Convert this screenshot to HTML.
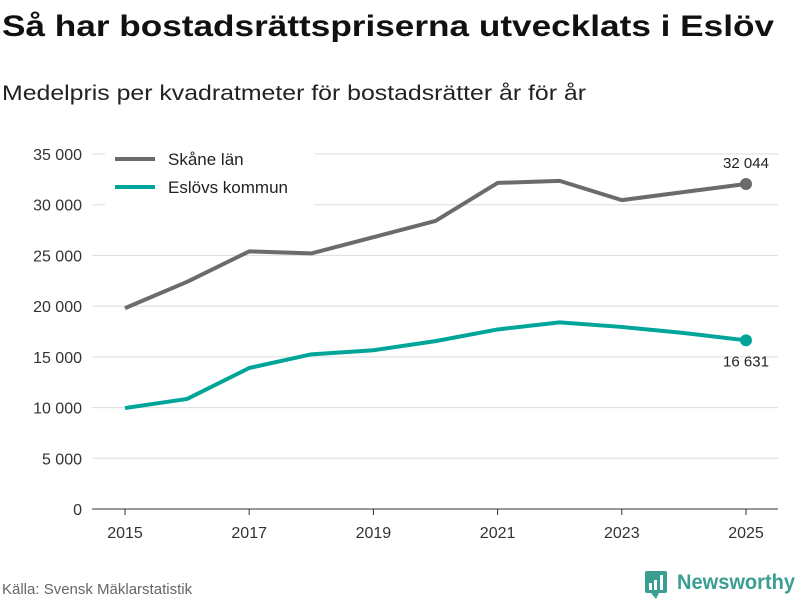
<!DOCTYPE html>
<html><head><meta charset="utf-8"><style>
body{margin:0;background:#fff;width:800px;height:600px;overflow:hidden;font-family:"Liberation Sans",sans-serif}
</style></head><body>
<svg id="c" width="800" height="600" xmlns="http://www.w3.org/2000/svg">
<text x="2" y="36" font-size="30" font-weight="bold" fill="#111" textLength="772" lengthAdjust="spacingAndGlyphs">Så har bostadsrättspriserna utvecklats i Eslöv</text>
<text x="2" y="100" font-size="21" fill="#222" textLength="584" lengthAdjust="spacingAndGlyphs">Medelpris per kvadratmeter för bostadsrätter år för år</text>
<g id="grid"></g><g id="lines"></g>
<g>
<rect x="105" y="146" width="210" height="60" fill="#fff"/>
<line x1="115" y1="159" x2="155" y2="159" stroke="#6b6b6b" stroke-width="4"/>
<text x="168" y="165" font-size="17" fill="#222">Skåne län</text>
<line x1="115" y1="187" x2="155" y2="187" stroke="#00a599" stroke-width="4"/>
<text x="168" y="193" font-size="17" fill="#222">Eslövs kommun</text>
</g>
<text x="2" y="594" font-size="15" fill="#666">Källa: Svensk Mäklarstatistik</text>
<g>
<rect x="645" y="571" width="22" height="22" rx="2" fill="#3a9e92"/>
<path d="M651 593 L656 599 L659 593Z" fill="#3a9e92"/>
<rect x="649" y="583" width="3" height="7" fill="#fff"/><rect x="654" y="580" width="3" height="10" fill="#fff"/><rect x="660" y="575" width="3" height="15" fill="#fff"/>
<text x="677" y="589" font-size="21" font-weight="bold" fill="#3a9e92" textLength="118" lengthAdjust="spacingAndGlyphs">Newsworthy</text>
</g>
</svg>
<script>
const years=[2015,2016,2017,2018,2019,2020,2021,2022,2023,2024,2025];
const skane=[19800,22400,25400,25200,26800,28400,32150,32350,30450,31250,32044];
const eslov=[9950,10850,13900,15250,15650,16550,17700,18400,17950,17350,16631];
const yTicks=[0,5000,10000,15000,20000,25000,30000,35000];
const xTicks=[2015,2017,2019,2021,2023,2025];
const NS="http://www.w3.org/2000/svg";
const X=v=>125+(v-2015)*62.1, Y=v=>509-v/35000*355;
const fmt=v=>String(v).replace(/\B(?=(\d{3})+(?!\d))/g," ");
function mk(t,a,p){const e=document.createElementNS(NS,t);for(const k in a)e.setAttribute(k,a[k]);p.appendChild(e);return e;}
const g=document.getElementById('grid'),L=document.getElementById('lines');
yTicks.forEach(v=>{
 const l=mk('line',{x1:92,x2:778,y1:Y(v),y2:Y(v),stroke:v?'#ddd':'#333','stroke-width':1},g);
 
 
 const t=mk('text',{x:82,y:Y(v)+6,'text-anchor':'end','font-size':16,fill:'#333'},g);t.textContent=fmt(v);
 
 
});
xTicks.forEach(v=>{
 const l=mk('line',{x1:X(v),x2:X(v),y1:509,y2:515,stroke:'#333'},g);
 
 
 const t=mk('text',{x:X(v),y:538,'text-anchor':'middle','font-size':16,fill:'#333'},g);t.textContent=v;
 
 
});
[[skane,'#6b6b6b','skane',-16],[eslov,'#00a599','eslov',26]].forEach(([d,c,n,dy])=>{
 const p=mk('polyline',{points:d.map((v,i)=>X(years[i])+','+Y(v)).join(' '),fill:'none',stroke:c,'stroke-width':4,'stroke-linejoin':'round'},L);
 
 
 const last=d.length-1;
 const ci=mk('circle',{cx:X(years[last]),cy:Y(d[last]),r:6,fill:c},L);
 
 
 const t=mk('text',{x:X(years[last]),y:Y(d[last])+dy,'text-anchor':'middle','font-size':15,fill:'#222'},L);t.textContent=fmt(d[last]);
 
 
});
</script>
</body></html>
